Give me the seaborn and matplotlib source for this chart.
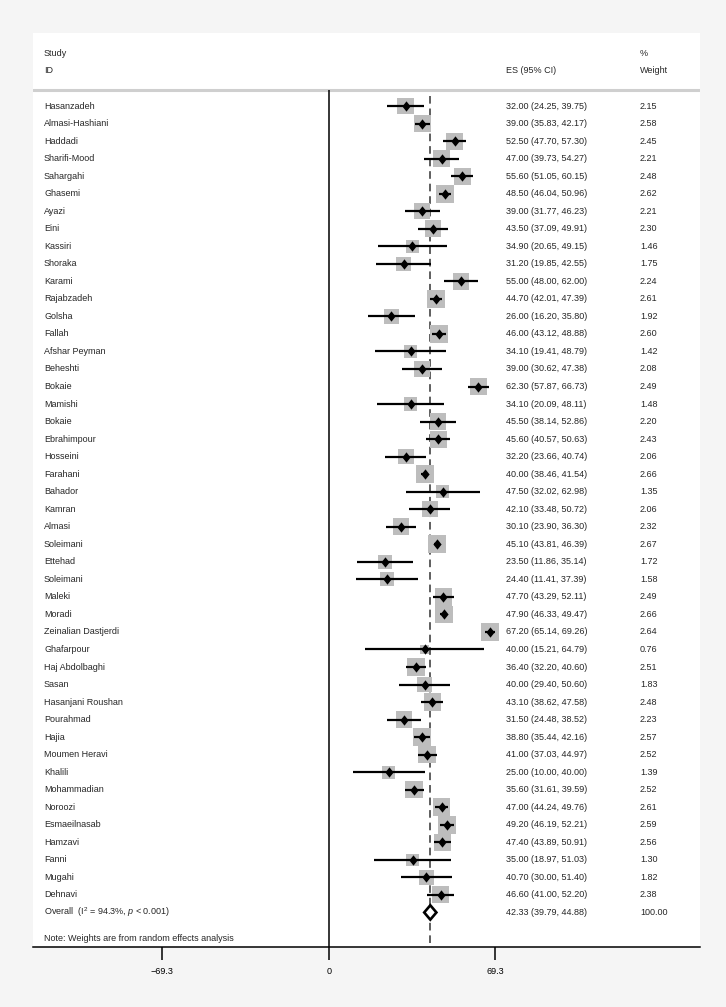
import numpy as np
import pandas as pd
import matplotlib.pyplot as plt
import seaborn as sns

studies = ['Hasanzadeh', 'Almasi-Hashiani', 'Haddadi', 'Sharifi-Mood', 'Sahargahi',
           'Ghasemi', 'Ayazi', 'Eini', 'Kassiri', 'Shoraka', 'Karami', 'Rajabzadeh',
           'Golsha', 'Fallah', 'Afshar Peyman', 'Beheshti', 'Bokaie', 'Mamishi',
           'Bokaie', 'Ebrahimpour', 'Hosseini', 'Farahani', 'Bahador', 'Kamran',
           'Almasi', 'Soleimani', 'Ettehad', 'Soleimani', 'Maleki', 'Moradi',
           'Zeinalian Dastjerdi', 'Ghafarpour', 'Haj Abdolbaghi', 'Sasan',
           'Hasanjani Roushan', 'Pourahmad', 'Hajia', 'Moumen Heravi', 'Khalili',
           'Mohammadian', 'Noroozi', 'Esmaeilnasab', 'Hamzavi', 'Fanni', 'Mugahi',
           'Dehnavi']

es = [32.00, 39.00, 52.50, 47.00, 55.60, 48.50, 39.00, 43.50, 34.90, 31.20,
      55.00, 44.70, 26.00, 46.00, 34.10, 39.00, 62.30, 34.10, 45.50, 45.60,
      32.20, 40.00, 47.50, 42.10, 30.10, 45.10, 23.50, 24.40, 47.70, 47.90,
      67.20, 40.00, 36.40, 40.00, 43.10, 31.50, 38.80, 41.00, 25.00, 35.60,
      47.00, 49.20, 47.40, 35.00, 40.70, 46.60]

ci_low = [24.25, 35.83, 47.70, 39.73, 51.05, 46.04, 31.77, 37.09, 20.65, 19.85,
          48.00, 42.01, 16.20, 43.12, 19.41, 30.62, 57.87, 20.09, 38.14, 40.57,
          23.66, 38.46, 32.02, 33.48, 23.90, 43.81, 11.86, 11.41, 43.29, 46.33,
          65.14, 15.21, 32.20, 29.40, 38.62, 24.48, 35.44, 37.03, 10.00, 31.61,
          44.24, 46.19, 43.89, 18.97, 30.00, 41.00]

ci_high = [39.75, 42.17, 57.30, 54.27, 60.15, 50.96, 46.23, 49.91, 49.15, 42.55,
           62.00, 47.39, 35.80, 48.88, 48.79, 47.38, 66.73, 48.11, 52.86, 50.63,
           40.74, 41.54, 62.98, 50.72, 36.30, 46.39, 35.14, 37.39, 52.11, 49.47,
           69.26, 64.79, 40.60, 50.60, 47.58, 38.52, 42.16, 44.97, 40.00, 39.59,
           49.76, 52.21, 50.91, 51.03, 51.40, 52.20]

weights = [2.15, 2.58, 2.45, 2.21, 2.48, 2.62, 2.21, 2.30, 1.46, 1.75,
           2.24, 2.61, 1.92, 2.60, 1.42, 2.08, 2.49, 1.48, 2.20, 2.43,
           2.06, 2.66, 1.35, 2.06, 2.32, 2.67, 1.72, 1.58, 2.49, 2.66,
           2.64, 0.76, 2.51, 1.83, 2.48, 2.23, 2.57, 2.52, 1.39, 2.52,
           2.61, 2.59, 2.56, 1.30, 1.82, 2.38]

overall_es = 42.33
overall_low = 39.79
overall_high = 44.88
overall_weight = 100.00
overall_label = r"Overall  (I$^2$ = 94.3%, $\it{p}$ < 0.001)"
note = "Note: Weights are from random effects analysis"
xticks = [-69.3, 0, 69.3]
xtick_labels = ["\u221269.3", "0", "69.3"]

df = pd.DataFrame({'study': studies, 'es': es, 'lo': ci_low, 'hi': ci_high,
                   'w': weights})
df['row'] = np.arange(len(df))
overall_row = len(df)

sns.set_theme(style="white")
plt.rcParams['font.family'] = ['Liberation Sans', 'DejaVu Sans']
plt.rcParams['mathtext.fontset'] = 'custom'
plt.rcParams['mathtext.rm'] = 'Liberation Sans'
plt.rcParams['mathtext.it'] = 'Liberation Sans:italic'

fig = plt.figure(figsize=(7.26, 10.07), dpi=100, facecolor='#f5f5f5')
ax = fig.add_axes([33 / 726, 1 - 947 / 1007, 667 / 726, 914 / 1007])
ax.set_facecolor('white')

y_top, y_bot = -4.164, 47.97
ax.set_xlim(-123.2, 154.7)
ax.set_ylim(y_bot, y_top)

# reference lines
ax.vlines(overall_es, -0.55, y_bot, color='#333333', lw=1.1,
          linestyles=(0, (5, 3.2)), zorder=1)
ax.axhline(-0.91, color='#cfcfcf', lw=2.2, zorder=1)

# weight boxes, area ~ weight
k = 62
sns.scatterplot(data=df, x='es', y='row', size='w', sizes=(k * df.w.min(), k * df.w.max()),
                size_norm=(df.w.min(), df.w.max()), marker='s', color='#bdbdbd',
                linewidth=0, legend=False, ax=ax, zorder=2)

# confidence intervals
ax.hlines(df.row, df.lo, df.hi, color='black', lw=1.6, zorder=3)

# point estimates
diamond = [(0, 1), (0.8, 0), (0, -1), (-0.8, 0), (0, 1)]
sns.scatterplot(data=df, x='es', y='row', marker=diamond, s=55, color='black',
                linewidth=0, legend=False, ax=ax, zorder=4)

# overall diamond
h = 0.41
ax.fill([overall_low, overall_es, overall_high, overall_es],
        [overall_row, overall_row - h, overall_row, overall_row + h],
        facecolor='white', edgecolor='black', lw=1.9, zorder=5)

ax.vlines(0, -0.91, y_bot, color='black', lw=1.1, zorder=6)

# text columns
tr = ax.get_yaxis_transform()
fs = 6.5
x_name, x_es, x_w = 0.0165, 0.709, 0.910
ax.text(x_name, -3, 'Study', transform=tr, fontsize=fs, va='center')
ax.text(x_name, -2, 'ID', transform=tr, fontsize=fs, va='center')
ax.text(x_es, -2, 'ES (95% CI)', transform=tr, fontsize=fs, va='center')
ax.text(x_w, -3, '%', transform=tr, fontsize=fs, va='center')
ax.text(x_w, -2, 'Weight', transform=tr, fontsize=fs, va='center')

for r in df.itertuples():
    ax.text(x_name, r.row, r.study, transform=tr, fontsize=fs, va='center')
    ax.text(x_es, r.row, f"{r.es:.2f} ({r.lo:.2f}, {r.hi:.2f})", transform=tr,
            fontsize=fs, va='center')
    ax.text(x_w, r.row, f"{r.w:.2f}", transform=tr, fontsize=fs, va='center')

ax.text(x_name, overall_row, overall_label, transform=tr, fontsize=fs, va='center')
ax.text(x_es, overall_row, f"{overall_es:.2f} ({overall_low:.2f}, {overall_high:.2f})",
        transform=tr, fontsize=fs, va='center')
ax.text(x_w, overall_row, f"{overall_weight:.2f}", transform=tr, fontsize=fs, va='center')
ax.text(x_name, overall_row + 1.5, note, transform=tr, fontsize=fs, va='center')

# axes
for s in ['top', 'left', 'right']:
    ax.spines[s].set_visible(False)
ax.spines['bottom'].set_color('black')
ax.spines['bottom'].set_linewidth(1.1)
ax.set_yticks([])
ax.set_xticks(xticks)
ax.set_xticklabels(xtick_labels)
ax.tick_params(axis='x', bottom=True, length=9, width=1.1, color='black',
               pad=5.5, labelsize=fs, labelcolor='black')
ax.set_xlabel('')
ax.set_ylabel('')

fig.savefig('out.png', dpi=100, facecolor=fig.get_facecolor())
